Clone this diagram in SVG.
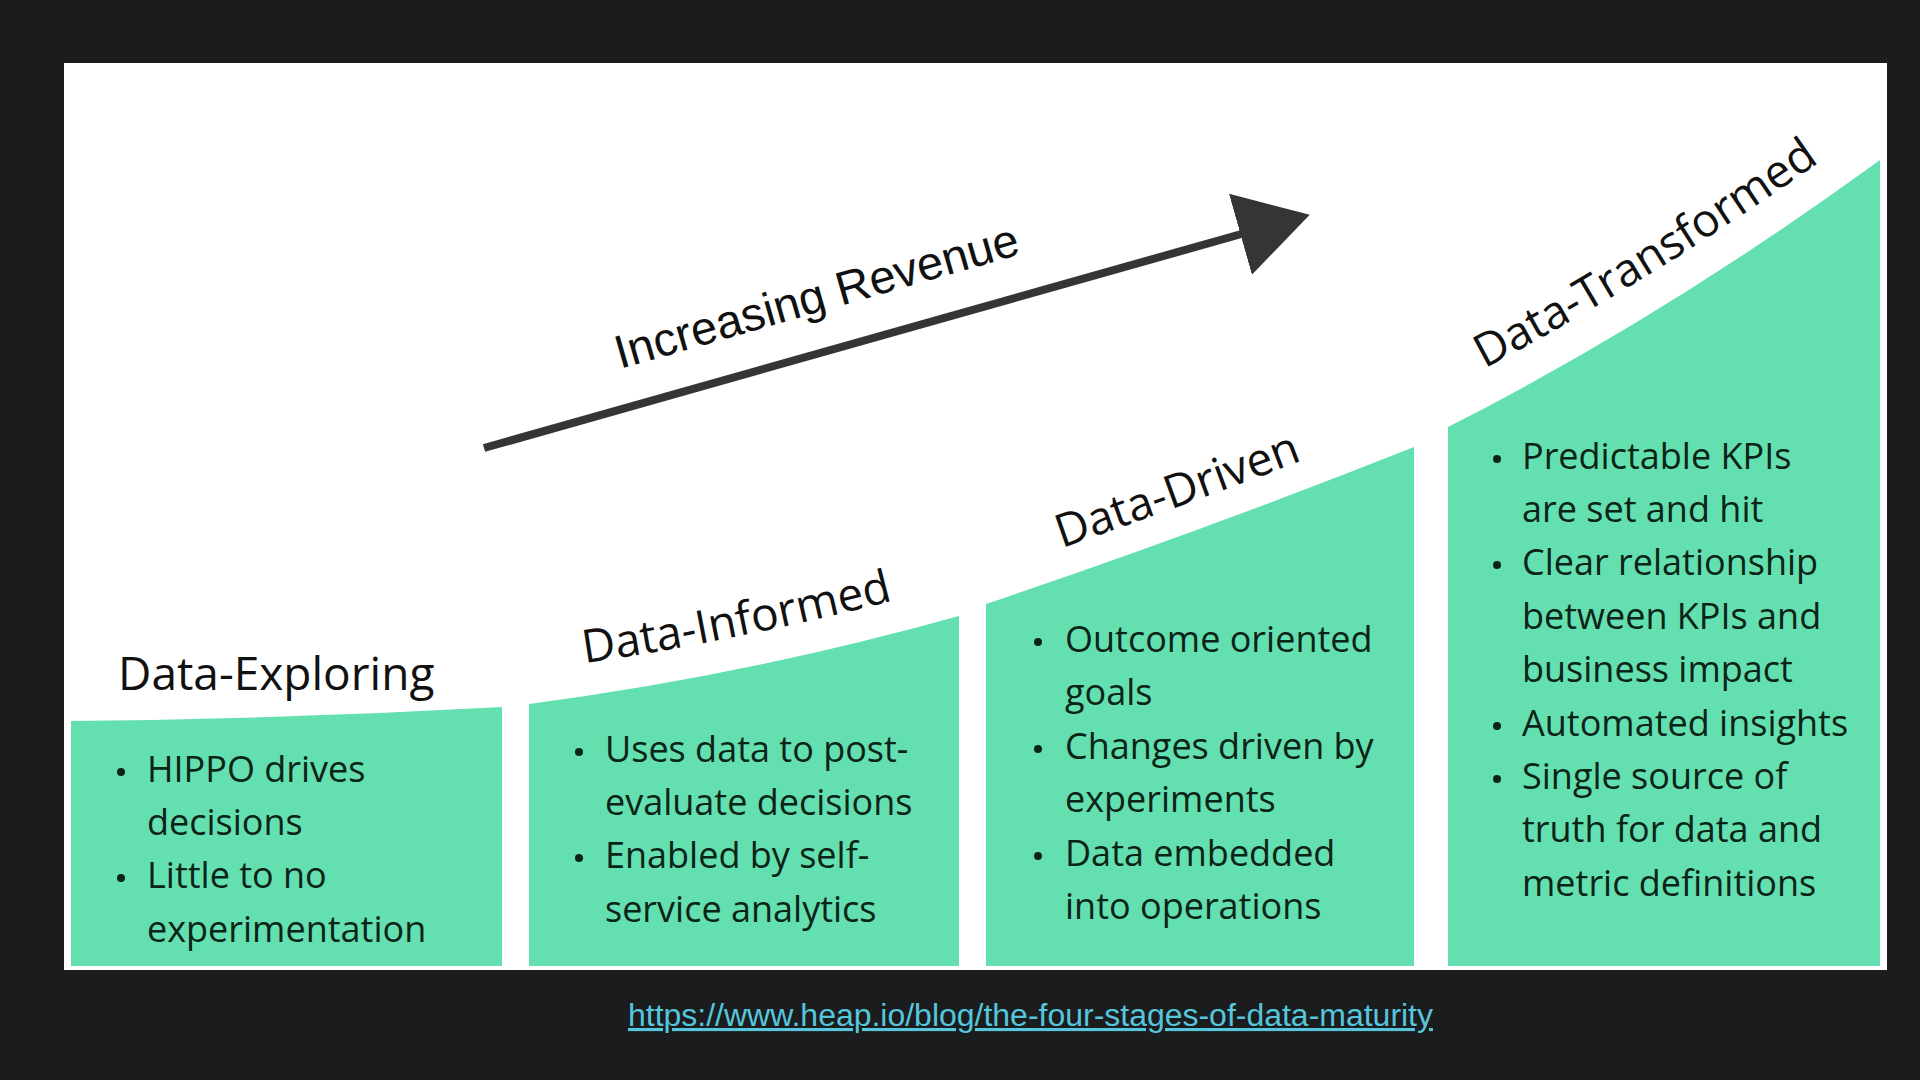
<svg xmlns="http://www.w3.org/2000/svg" width="1920" height="1080" viewBox="0 0 1920 1080">
  <style>
    .stage { fill: #63dfb0; }
    .title { font-family: "Open Sans", "Liberation Sans", sans-serif; font-size: 46px; fill: #111111; }
    .item { font-family: "Open Sans", "Liberation Sans", sans-serif; font-size: 36px; fill: #0c2417; }
    .dot { fill: #0c2417; }
    .axis { stroke: #353535; stroke-width: 8; fill: none; }
    .axis-label { font-family: "Liberation Sans", Arial, sans-serif; font-size: 47px; fill: #111111; }
    .link { font-family: "Liberation Sans", Arial, sans-serif; font-size: 31px; fill: #55c6dc; text-decoration: underline; }
  </style>
  <defs>
    <marker id="arrowhead" markerUnits="userSpaceOnUse" markerWidth="80" markerHeight="90" viewBox="0 -45 80 90" refX="12" refY="0" orient="auto">
      <path d="M0,-42 L72,0 L0,42 Z" fill="#353535"/>
    </marker>
    <path id="tp-informed" d="M529,671 Q744,643 959,583"/>
    <path id="tp-driven" d="M986,574 Q1200,502 1414,417"/>
    <path id="tp-transformed" d="M1449,387 Q1663,278 1878,120"/>
  </defs>

  <rect x="0" y="0" width="1920" height="1080" fill="#1b1c1e"/>
  <rect x="64" y="63" width="1823" height="907" fill="#ffffff"/>

  <g id="connectors">
    <line class="axis" x1="484" y1="448" x2="1252" y2="231" marker-end="url(#arrowhead)"/>
    <text class="axis-label" x="620" y="369" transform="rotate(-16 620 369)">Increasing Revenue</text>
  </g>

  <g id="stage-data-exploring">
    <path class="stage" d="M71,721 Q287,719 502,707 L502,966 L71,966 Z"/>
    <text class="title" x="118" y="690">Data-Exploring</text>
    <circle class="dot" cx="121" cy="772" r="4"/>
    <text class="item" x="147" y="782">HIPPO drives</text>
    <text class="item" x="147" y="835">decisions</text>
    <circle class="dot" cx="121" cy="878" r="4"/>
    <text class="item" x="147" y="888">Little to no</text>
    <text class="item" x="147" y="942">experimentation</text>
  </g>

  <g id="stage-data-informed">
    <path class="stage" d="M529,704 Q744,676 959,616 L959,966 L529,966 Z"/>
    <text class="title"><textPath href="#tp-informed" startOffset="56">Data-Informed</textPath></text>
    <circle class="dot" cx="579" cy="752" r="4"/>
    <text class="item" x="605" y="762">Uses data to post-</text>
    <text class="item" x="605" y="815">evaluate decisions</text>
    <circle class="dot" cx="579" cy="858" r="4"/>
    <text class="item" x="605" y="868">Enabled by self-</text>
    <text class="item" x="605" y="922">service analytics</text>
  </g>

  <g id="stage-data-driven">
    <path class="stage" d="M986,604 Q1200,532 1414,447 L1414,966 L986,966 Z"/>
    <text class="title"><textPath href="#tp-driven" startOffset="80">Data-Driven</textPath></text>
    <circle class="dot" cx="1038" cy="642" r="4"/>
    <text class="item" x="1065" y="652">Outcome oriented</text>
    <text class="item" x="1065" y="705">goals</text>
    <circle class="dot" cx="1038" cy="749" r="4"/>
    <text class="item" x="1065" y="759">Changes driven by</text>
    <text class="item" x="1065" y="812">experiments</text>
    <circle class="dot" cx="1038" cy="856" r="4"/>
    <text class="item" x="1065" y="866">Data embedded</text>
    <text class="item" x="1065" y="919">into operations</text>
  </g>

  <g id="stage-data-transformed">
    <path class="stage" d="M1448,427 Q1663,318 1880,160 L1880,966 L1448,966 Z"/>
    <text class="title"><textPath href="#tp-transformed" startOffset="40">Data-Transformed</textPath></text>
    <circle class="dot" cx="1497" cy="459" r="4"/>
    <text class="item" x="1522" y="469">Predictable KPIs</text>
    <text class="item" x="1522" y="522">are set and hit</text>
    <circle class="dot" cx="1497" cy="565" r="4"/>
    <text class="item" x="1522" y="575">Clear relationship</text>
    <text class="item" x="1522" y="629">between KPIs and</text>
    <text class="item" x="1522" y="682">business impact</text>
    <circle class="dot" cx="1497" cy="726" r="4"/>
    <text class="item" x="1522" y="736">Automated insights</text>
    <circle class="dot" cx="1497" cy="779" r="4"/>
    <text class="item" x="1522" y="789">Single source of</text>
    <text class="item" x="1522" y="842">truth for data and</text>
    <text class="item" x="1522" y="896">metric definitions</text>
  </g>

  <text class="link" x="628" y="1026" textLength="805" lengthAdjust="spacingAndGlyphs">https://www.heap.io/blog/the-four-stages-of-data-maturity</text>
</svg>
